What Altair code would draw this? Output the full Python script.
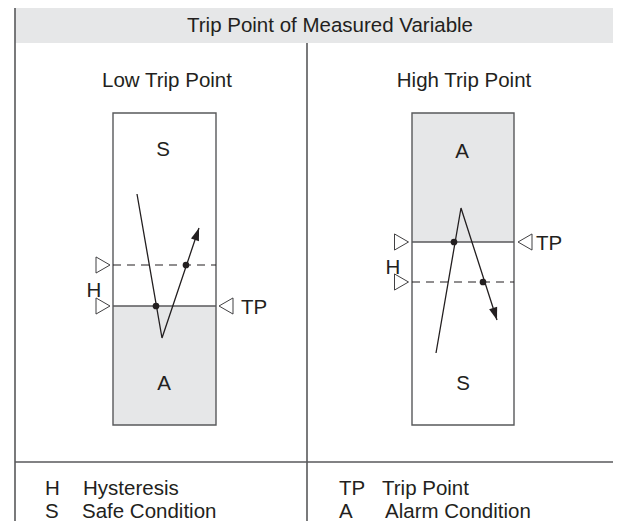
import altair as alt
import numpy as np
import pandas as pd

FONT = "Liberation Sans"
INK = "#231f20"
EDGE = "#58595b"
GREY = "#e6e7e8"
FS = 20.5

# ---- diagram data (page pixel coordinates, y grows downward) ----
# outer frame segments
frame_x1 = [15, 15, 307, 15]
frame_y1 = [6, 6, 43, 462]
frame_x2 = [621, 15, 307, 621]
frame_y2 = [6, 529, 529, 462]

# header band
header_x = [15, 621]
header_y = [6, 43]
header_text = "Trip Point of Measured Variable"

# panels
panel_names = ["Low Trip Point", "High Trip Point"]
box_x1 = [113, 412]
box_x2 = [216, 514]
box_y1 = [113, 113]
box_y2 = [425, 425]
alarm_y1 = [306, 113]
alarm_y2 = [425, 242]
trip_y = [306, 242]
hyst_y = [265, 282]

# measured variable trajectories
traj_left_x = [137, 162, 199]
traj_left_y = [194, 338, 228]
traj_right_x = [436, 461, 497]
traj_right_y = [353, 208, 320]

# crossing dots
dot_x = [156, 186, 454, 483]
dot_y = [306, 265, 242, 282]

# setpoint markers
mark_right_x = [103, 103, 401.5, 401.5]
mark_right_y = [265, 306, 242, 282]
mark_left_x = [226, 525]
mark_left_y = [306, 242]

# labels inside the diagrams
center_labels = ["Low Trip Point", "High Trip Point", "S", "A", "A", "S", "H", "H"]
center_x = [167, 464, 163, 164, 462, 463, 94, 393]
center_y = [79, 79, 148, 382, 150, 382, 289, 266]
tp_labels = ["TP", "TP"]
tp_x = [241, 536]
tp_y = [306, 242]

# legend
legend_keys = ["H", "S", "TP", "A"]
legend_desc = ["Hysteresis", "Safe Condition", "Trip Point", "Alarm Condition"]
legend_key_x = [45, 45, 339, 339]
legend_desc_x = [83, 82, 382, 385]
legend_y = [487, 510, 487, 510]

# ---- scales ----
xs = alt.Scale(domain=[8, 613], nice=False, zero=False)
ys = alt.Scale(domain=[8, 521], nice=False, zero=False, reverse=True)


def X(f):
    return alt.X(f, type="quantitative", scale=xs, axis=None)


def Y(f):
    return alt.Y(f, type="quantitative", scale=ys, axis=None)


frame = pd.DataFrame({"x": frame_x1, "y": frame_y1, "x2": frame_x2, "y2": frame_y2})
header = pd.DataFrame({"x": [header_x[0]], "x2": [header_x[1]], "y": [header_y[0]], "y2": [header_y[1]]})
boxes = pd.DataFrame({"x": box_x1, "x2": box_x2, "y": box_y1, "y2": box_y2})
alarms = pd.DataFrame({"x": box_x1, "x2": box_x2, "y": alarm_y1, "y2": alarm_y2})
trips = pd.DataFrame({"x": box_x1, "x2": box_x2, "y": trip_y})
hysts = pd.DataFrame({"x": box_x1, "x2": box_x2, "y": hyst_y})

traj = pd.DataFrame({
    "panel": ["L"] * 3 + ["R"] * 3,
    "step": [0, 1, 2] * 2,
    "x": traj_left_x + traj_right_x,
    "y": traj_left_y + traj_right_y,
})


def head(xl, yl):
    dx = xl[-1] - xl[-2]
    dy = yl[-1] - yl[-2]
    return float(np.degrees(np.arctan2(dx, -dy)))


heads = pd.DataFrame({
    "x": [traj_left_x[-1], traj_right_x[-1]],
    "y": [traj_left_y[-1], traj_right_y[-1]],
    "angle": [head(traj_left_x, traj_left_y), head(traj_right_x, traj_right_y)],
})

dots = pd.DataFrame({"x": dot_x, "y": dot_y})
mr = pd.DataFrame({"x": mark_right_x, "y": mark_right_y})
ml = pd.DataFrame({"x": mark_left_x, "y": mark_left_y})
ctext = pd.DataFrame({"x": center_x, "y": center_y, "t": center_labels})
tptext = pd.DataFrame({"x": tp_x, "y": tp_y, "t": tp_labels})
htext = pd.DataFrame({"x": [330], "y": [24], "t": [header_text]})
lkeys = pd.DataFrame({"x": legend_key_x, "y": legend_y, "t": legend_keys})
ldesc = pd.DataFrame({"x": legend_desc_x, "y": legend_y, "t": legend_desc})

TXT = dict(font=FONT, fontSize=FS, color=INK, baseline="middle", dy=1.5)

layers = [
    alt.Chart(header).mark_rect(fill=GREY, stroke=None, clip=True).encode(x=X("x"), x2="x2", y=Y("y"), y2="y2"),
    alt.Chart(frame).mark_rule(color=EDGE, strokeWidth=1.6, clip=True).encode(x=X("x"), y=Y("y"), x2="x2", y2="y2"),
    alt.Chart(boxes).mark_rect(fill="white").encode(x=X("x"), x2="x2", y=Y("y"), y2="y2"),
    alt.Chart(alarms).mark_rect(fill=GREY).encode(x=X("x"), x2="x2", y=Y("y"), y2="y2"),
    alt.Chart(boxes).mark_rect(fill=None, stroke=EDGE, strokeWidth=1.4).encode(x=X("x"), x2="x2", y=Y("y"), y2="y2"),
    alt.Chart(trips).mark_rule(color=EDGE, strokeWidth=1.4).encode(x=X("x"), x2="x2", y=Y("y")),
    alt.Chart(hysts).mark_rule(color=INK, strokeWidth=1.1, strokeDash=[8, 6]).encode(x=X("x"), x2="x2", y=Y("y")),
    alt.Chart(traj).mark_line(color=INK, strokeWidth=1.3).encode(x=X("x"), y=Y("y"), detail="panel:N", order="step:Q"),
    alt.Chart(heads).mark_point(shape="M0,0L-0.7,2.1L0.7,2.1Z", filled=True, color=INK, size=144, opacity=1).encode(
        x=X("x"), y=Y("y"), angle=alt.Angle("angle:Q", scale=None)),
    alt.Chart(dots).mark_circle(color=INK, size=45, opacity=1).encode(x=X("x"), y=Y("y")),
    alt.Chart(mr).mark_point(shape="M-1,-1.15L1,0L-1,1.15Z", filled=False, color="#414042", size=196, strokeWidth=1, opacity=1).encode(
        x=X("x"), y=Y("y")),
    alt.Chart(ml).mark_point(shape="M1,-1.15L-1,0L1,1.15Z", filled=False, color="#414042", size=196, strokeWidth=1, opacity=1).encode(
        x=X("x"), y=Y("y")),
    alt.Chart(htext).mark_text(align="center", **TXT).encode(x=X("x"), y=Y("y"), text="t:N"),
    alt.Chart(ctext).mark_text(align="center", **TXT).encode(x=X("x"), y=Y("y"), text="t:N"),
    alt.Chart(tptext).mark_text(align="left", **TXT).encode(x=X("x"), y=Y("y"), text="t:N"),
    alt.Chart(lkeys).mark_text(align="left", **TXT).encode(x=X("x"), y=Y("y"), text="t:N"),
    alt.Chart(ldesc).mark_text(align="left", **TXT).encode(x=X("x"), y=Y("y"), text="t:N"),
]

chart = alt.layer(*layers).properties(
    width=605, height=513, padding=0, autosize=alt.AutoSizeParams(type="none")
).configure_view(stroke=None)

chart.save("out.html", embed_options={"renderer": "svg", "actions": False})
